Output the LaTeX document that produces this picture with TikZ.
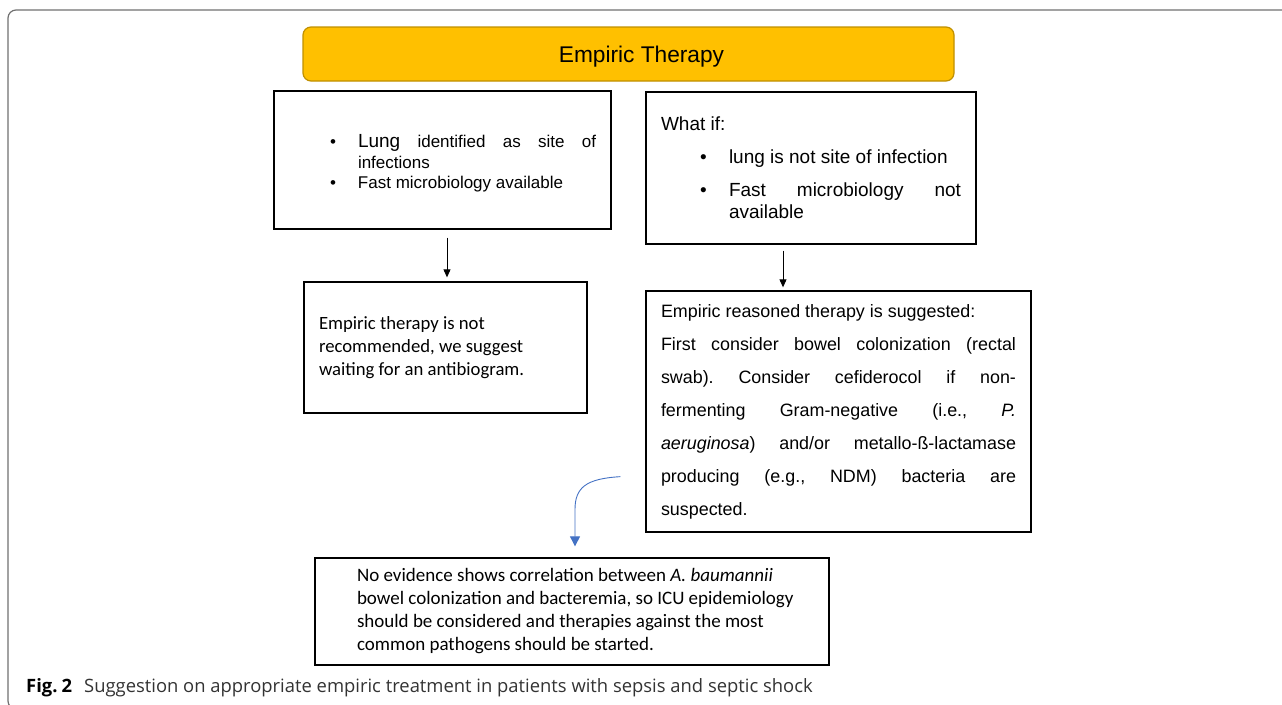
\documentclass[tikz,border=0pt]{standalone}
\usepackage{fontspec}
\setmainfont{Liberation Sans}
\newfontfamily\calfont{Carlito}
\newfontfamily\capfont{Open Sans}
\usepackage{tikz}
\usetikzlibrary{arrows.meta,positioning}
\definecolor{titlefill}{HTML}{FFC000}
\definecolor{titledraw}{HTML}{C09000}
\definecolor{curvecol}{HTML}{4472C4}
\definecolor{framecol}{HTML}{707070}
\definecolor{capcol}{HTML}{333333}
\hyphenpenalty=10000
\tolerance=9999
\frenchspacing
\newcommand{\bulpar}[2][28pt]{\par\hangindent=#1\hangafter=1\noindent\makebox[#1][l]{\textbullet}#2\par}
\tikzset{
  titlebox/.style={ draw=titledraw, fill=titlefill, rounded corners=8pt, line width=1.2pt, minimum width=651pt, minimum height=54pt }
}
\tikzset{
  stepbox/.style={ draw, line width=1.3pt, inner xsep=15pt, inner ysep=0pt, align=justify }
}
\tikzset{
  flow/.style={ -{Triangle[length=8pt,width=7pt]}, line width=0.9pt }
}
\tikzset{
  curvearr/.style={ curvecol, -{Triangle[length=10pt,width=10pt]}, line width=0.9pt }
}

\begin{document}
\begin{tikzpicture}[x=1pt, y=-1pt]

      \useasboundingbox (0,0) rectangle (1282,704);
      \draw[framecol, line width=1.2pt, rounded corners=8pt] (1300,10) -- (8,10) -- (8,709) -- (40,709);

      \node[titlebox, text depth=0pt, font=\fontsize{22.7}{26}\selectfont] (title) at (628.5,54) {\hspace*{26pt}Empiric Therapy};

      \node[stepbox, minimum width=337pt, minimum height=138pt, text width=307pt,
            font=\fontsize{17}{20.5}\selectfont] (lungbox) at (442.5,160)
            {\leftskip=41pt
             \bulpar{{\fontsize{19}{20.5}\selectfont Lung} identified as site of infections}
             \bulpar{Fast microbiology available}};
      \node[stepbox, minimum width=330pt, minimum height=152pt, text width=300pt,
            font=\fontsize{19}{22}\selectfont] (whatif) at (811,168)
            {What if:\par\vspace{11pt}\leftskip=39pt
             \bulpar[29pt]{lung is not site of infection}\vspace{11pt}
             \bulpar[29pt]{Fast microbiology not available}};

      \node[stepbox, minimum width=283pt, minimum height=131pt, text width=253pt,
            font=\calfont\fontsize{18.7}{23}\selectfont] (nobox) at (445.5,347.5)
            {Empiric therapy is not\newline recommended, we suggest\newline waiting for an antibiogram.};
      \node[stepbox, minimum width=385pt, minimum height=241pt, text width=355pt,
            font=\fontsize{17.9}{33}\selectfont] (reason) at (838.5,411.5)
            {Empiric reasoned therapy is suggested:\par
             First consider bowel colonization (rectal\linebreak swab). Consider cefiderocol if
             non-\linebreak fermenting Gram-negative (i.e., \textit{P.}\linebreak \textit{aeruginosa}) and/or
             metallo-ß-lactamase\linebreak producing (e.g., NDM) bacteria are\linebreak suspected.};

      \node[stepbox, minimum width=514pt, minimum height=107pt, text width=484pt,
            font=\calfont\fontsize{19}{23}\selectfont] (evidence) at (572,611.5)
            {\leftskip=27pt No evidence shows correlation between \textit{A. baumannii}\newline
             bowel colonization and bacteremia, so ICU epidemiology\newline
             should be considered and therapies against the most\newline
             common pathogens should be started.\par};

      \draw[flow, shorten <=8pt, shorten >=4pt] ([xshift=4.5pt]lungbox.south) -- ([xshift=4.5pt]lungbox.south |- nobox.north);
      \draw[flow, shorten <=6pt, shorten >=3pt] ([xshift=-28pt]whatif.south) -- ([xshift=-28pt]whatif.south |- reason.north);

      \coordinate (curvestart) at ([xshift=-25pt, yshift=56pt]reason.south west);
      \coordinate (curvebend) at ([xshift=3pt, yshift=48pt]evidence.north);
      \draw[curvearr, shorten >=11pt] (curvestart) .. controls +(-34,2) and +(0,-22) .. (curvebend) -- (curvebend |- evidence.north);

      \node[anchor=base west, inner sep=0pt, font=\capfont\fontsize{18.4}{20}\selectfont, text=capcol] (caption) at (26,692)
            {\makebox[58pt][l]{\textbf{\color{black}Fig.\hspace{4pt}2}}Suggestion on appropriate empiric treatment in patients with sepsis and septic shock};

    \end{tikzpicture}
\end{document}
